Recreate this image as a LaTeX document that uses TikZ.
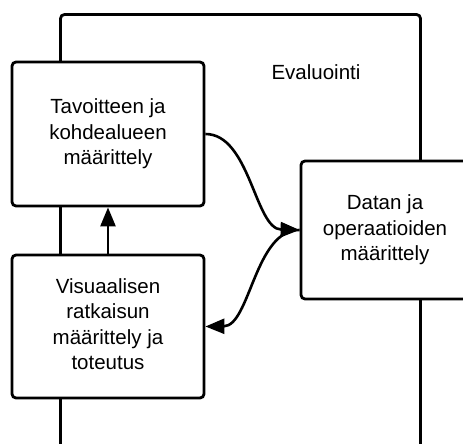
\documentclass[tikz,border=0pt]{standalone}
\usepackage{fontspec}
\setmainfont{Liberation Sans}
\usetikzlibrary{arrows.meta}
\begin{document}
\begin{tikzpicture}[x=1pt,y=-1pt,
  frame/.style={draw=black,line width=2.8pt,rounded corners=4pt},
  stepbox/.style={frame,fill=white,minimum width=192pt,minimum height=144pt,
    align=center,font=\fontsize{20.5}{25.5}\selectfont,inner sep=0pt},
  flow/.style={line width=2.6pt,-{Triangle[length=19pt,width=15pt]}}]
\useasboundingbox (0,0) rectangle (463,444);
\clip (0,0) rectangle (463,444);
% outer evaluation loop
\draw[frame] (60.5,470) rectangle (420.5,14.5);
\node[font=\fontsize{20.5}{25.5}\selectfont] (eval) at (316,72) {Evaluointi};
% steps
\node[stepbox] (goal) at (108,134) {Tavoitteen ja\\kohdealueen\\määrittely};
\node[stepbox,minimum height=143pt] (vis) at (108,326.5)
  {\raisebox{7pt}{\begin{tabular}{@{}c@{}}Visuaalisen\\ratkaisun\\määrittely ja\\toteutus\end{tabular}}};
\node[stepbox,minimum width=168pt,minimum height=138pt] (data) at (385,230) {Datan ja\\operaatioiden\\määrittely};
% connectors
\draw[flow] (goal.east) .. controls (250,134) and (255,229) .. (data.west);
\draw[flow] (data.west) .. controls (255,229) and (250,326) .. (vis.east);
\draw[flow] (vis.north) -- (goal.south);
\end{tikzpicture}
\end{document}
